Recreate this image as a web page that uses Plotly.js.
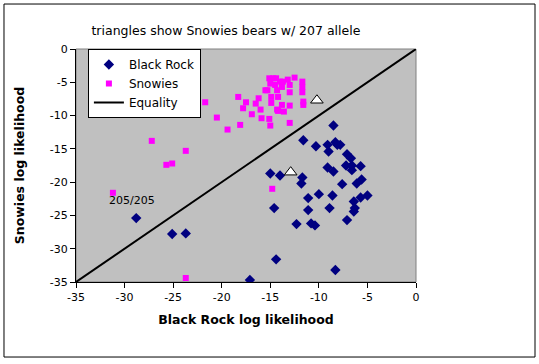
<!DOCTYPE html>
<html>
<head>
<meta charset="utf-8">
<script src="https://cdn.plot.ly/plotly-3.0.1.min.js"></script>
<style>html,body{margin:0;padding:0;background:#fff;}#chart{width:539px;height:364px;}</style>
</head>
<body>
<div id="chart"></div>
<script>
// Black Rock bears: [Black Rock log likelihood, Snowies log likelihood]
const blackRockX = [-8.5,-11.6,-10.3,-9.1,-9.0,-8.3,-8.1,-7.8,-7.1,-6.7,-7.2,-6.6,-5.7,-6.6,-9.1,-8.5,-15.0,-14.0,-11.7,-11.8,-7.6,-6.1,-5.6,-11.1,-10.0,-8.6,-6.4,-5.7,-5.0,-14.6,-11.1,-8.9,-6.3,-6.4,-7.1,-12.3,-10.8,-10.4,-14.4,-8.3,-17.1,-28.8,-25.1,-23.7];
const blackRockY = [-11.5,-13.7,-14.6,-14.4,-15.4,-14.0,-14.4,-14.4,-15.8,-16.4,-17.5,-17.5,-17.6,-18.2,-17.8,-18.4,-18.7,-19.0,-19.3,-20.2,-20.3,-20.2,-19.6,-22.4,-21.8,-22.0,-22.9,-22.3,-22.0,-23.9,-24.2,-23.9,-23.9,-24.4,-25.7,-26.3,-26.2,-26.5,-31.6,-33.2,-34.7,-25.4,-27.8,-27.7];
// Snowies bears
const snowiesX = [-21.7,-18.3,-17.5,-17.8,-16.9,-20.5,-19.4,-18.1,-16.0,-15.9,-15.1,-15.0,-16.5,-16.2,-15.5,-15.3,-15.1,-15.0,-14.7,-14.4,-14.5,-14.3,-14.9,-14.9,-14.2,-14.0,-13.7,-13.2,-13.0,-12.5,-13.0,-13.8,-14.3,-14.2,-13.8,-13.6,-13.0,-11.7,-11.7,-11.7,-11.6,-11.6,-13.0,-27.2,-25.7,-25.1,-23.7,-31.2,-23.7,-14.8];
const snowiesY = [-8.0,-7.2,-8.0,-8.9,-9.8,-10.3,-12.1,-11.4,-9.1,-10.4,-10.5,-11.5,-8.2,-7.4,-6.2,-6.2,-4.4,-5.2,-4.4,-4.4,-5.4,-6.2,-7.2,-8.1,-7.2,-4.9,-4.9,-4.6,-5.4,-4.3,-6.5,-5.7,-9.1,-9.3,-8.4,-9.4,-8.5,-4.9,-5.7,-6.5,-7.9,-8.4,-11.1,-13.8,-17.4,-17.2,-15.3,-21.6,-34.4,-21.0];
// Snowies bears with 207 allele (triangles)
const allele207X = [-12.9,-10.2];
const allele207Y = [-18.5,-7.7];
// Equality line
const equalityX = [-35, 0];
const equalityY = [-35, 0];
const tickVals = [-35,-30,-25,-20,-15,-10,-5,0];
const tickText = ['-35','-30','-25','-20','-15','-10','-5','0'];

const fam = 'DejaVu Sans, Verdana, sans-serif';
const font = {family: fam, size: 11, color: '#000'};

const traces = [
  {x: blackRockX, y: blackRockY, type: 'scatter', mode: 'markers', name: 'Black Rock',
   marker: {symbol: 'diamond', size: 8, color: '#000080'}},
  {x: snowiesX, y: snowiesY, type: 'scatter', mode: 'markers', name: 'Snowies',
   marker: {symbol: 'square', size: 6, color: '#ff00ff'}},
  {x: equalityX, y: equalityY, type: 'scatter', mode: 'lines', name: 'Equality',
   line: {color: '#000', width: 2}},
  {x: allele207X, y: allele207Y, type: 'scatter', mode: 'markers', showlegend: false,
   marker: {symbol: 'triangle-up', size: 11, color: '#fff', line: {color: '#000', width: 1}}}
];

const layout = {
  width: 539, height: 364,
  margin: {l: 76, r: 123, t: 49, b: 82, pad: 0},
  paper_bgcolor: '#fff', plot_bgcolor: '#c0c0c0',
  font: font,
  showlegend: true,
  title: {text: 'triangles show Snowies bears w/ 207 allele', font: {family: fam, size: 12.5, color: '#000'},
          xref: 'paper', yref: 'container', x: 0.441, y: 0.915, xanchor: 'center', yanchor: 'middle'},
  xaxis: {range: [-35, 0], tickvals: tickVals, ticktext: tickText, ticks: 'outside', ticklen: 5,
          tickcolor: '#000', showline: true, linecolor: '#000', linewidth: 1, showgrid: false, zeroline: false,
          fixedrange: true, automargin: false,
          title: {text: '<b>Black Rock log likelihood</b>', font: {family: fam, size: 12.5, color: '#000'}, standoff: 12}},
  yaxis: {range: [-35, 0], tickvals: tickVals, ticktext: tickText, ticks: 'outside', ticklen: 5,
          tickcolor: '#000', showline: true, linecolor: '#000', linewidth: 1, showgrid: false, zeroline: false,
          fixedrange: true, automargin: false,
          title: {text: '<b>Snowies log likelihood</b>', font: {family: fam, size: 12.5, color: '#000'}, standoff: 22}},
  legend: {x: 0.035, y: 1.0, xanchor: 'left', yanchor: 'top', bgcolor: '#fff', bordercolor: '#000', borderwidth: 1,
           font: {family: fam, size: 12, color: '#000'}, tracegroupgap: 0, itemwidth: 30},
  annotations: [
    {x: -29.2, y: -22.7, xref: 'x', yref: 'y', text: '205/205', showarrow: false,
     font: {family: fam, size: 11, color: '#000'}}
  ],
  shapes: [
    {type: 'rect', xref: 'paper', yref: 'paper', x0: 0, x1: 1, y0: 0, y1: 1,
     line: {color: '#808080', width: 1}, layer: 'below'},
    {type: 'rect', xref: 'paper', yref: 'paper', x0: -0.2118, x1: 1.35, y0: -0.322, y1: 1.193,
     line: {color: '#000', width: 1}}
  ]
};

Plotly.newPlot('chart', traces, layout, {displayModeBar: false, staticPlot: true});
</script>
</body>
</html>
